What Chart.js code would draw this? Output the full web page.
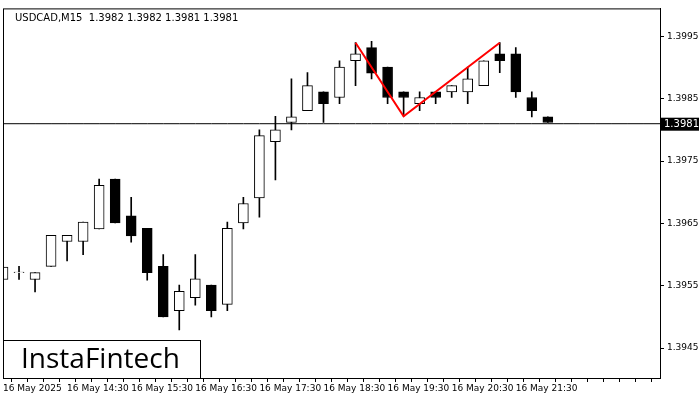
<!DOCTYPE html>
<html>
<head>
<meta charset="utf-8">
<script src="https://cdn.jsdelivr.net/npm/chart.js@4/dist/chart.umd.min.js"></script>
<style>
  html, body { margin: 0; padding: 0; background: #fff; }
  #wrap { width: 700px; height: 400px; position: relative; }
</style>
</head>
<body>
<div id="wrap"><canvas id="c"></canvas></div>
<script>
  // USDCAD M15 candles
  const timeLabels = ["16 May 2025","","","","16 May 14:30","","","","16 May 15:30","","","",
    "16 May 16:30","","","","16 May 17:30","","","","16 May 18:30","","","","16 May 19:30","","","",
    "16 May 20:30","","","","16 May 21:30","","","","","","","","",""];
  const opens  = [1.39560,1.39571,1.39560,1.39581,1.39621,1.39621,1.39641,1.39721,1.39662,1.39642,
    1.39581,1.39510,1.39531,1.39551,1.39520,1.39651,1.39691,1.39781,1.39812,1.39831,
    1.39861,1.39852,1.39911,1.39932,1.39901,1.39861,1.39842,1.39861,1.39861,1.39861,
    1.39871,1.39922,1.39922,1.39852,1.39821];
  const highs  = [1.39601,1.39581,1.39571,1.39631,1.39631,1.39652,1.39721,1.39721,1.39692,1.39642,
    1.39600,1.39551,1.39600,1.39551,1.39652,1.39692,1.39800,1.39822,1.39882,1.39892,
    1.39861,1.39911,1.39940,1.39942,1.39901,1.39861,1.39861,1.39861,1.39871,1.39901,
    1.39911,1.39940,1.39932,1.39861,1.39821];
  const lows   = [1.39551,1.39560,1.39540,1.39581,1.39590,1.39600,1.39641,1.39651,1.39620,1.39559,
    1.39500,1.39479,1.39519,1.39500,1.39510,1.39641,1.39660,1.39720,1.39800,1.39831,
    1.39812,1.39842,1.39871,1.39882,1.39842,1.39822,1.39831,1.39842,1.39852,1.39842,
    1.39871,1.39892,1.39852,1.39821,1.39812];
  const closes = [1.39580,1.39572,1.39571,1.39631,1.39631,1.39652,1.39711,1.39651,1.39630,1.39571,
    1.39500,1.39541,1.39561,1.39510,1.39642,1.39682,1.39791,1.39800,1.39821,1.39871,
    1.39842,1.39901,1.39922,1.39891,1.39852,1.39852,1.39852,1.39852,1.39871,1.39882,
    1.39911,1.39911,1.39861,1.39831,1.39812];
  const patternIdx = [22, 25, 31];
  const patternVals = [1.39940, 1.39822, 1.39940];
  const lastPrice = 1.3981;
  const priceTicks = [1.3945, 1.3955, 1.3965, 1.3975, 1.3985, 1.3995];

  const bodies = opens.map((o, i) => [o, closes[i]]);
  const wicks = lows.map((l, i) => [l, highs[i]]);
  const bodyFill = opens.map((o, i) => closes[i] >= o ? "#fff" : "#000");
  const pattern = timeLabels.map((_, i) => {
    const k = patternIdx.indexOf(i);
    return k >= 0 ? patternVals[k] : null;
  });
  const lastLine = timeLabels.map(() => lastPrice);

  const overlay = {
    id: "overlay",
    afterDraw(chart) {
      const ctx = chart.ctx, a = chart.chartArea, y = chart.scales.y;
      ctx.save();
      ctx.strokeStyle = "#000";
      ctx.lineWidth = 1;
      ctx.strokeRect(a.left + 0.5, a.top + 0.5, a.right - a.left, a.bottom - a.top);
      // header
      ctx.fillStyle = "#000";
      ctx.font = "10px 'DejaVu Sans'";
      ctx.textBaseline = "top";
      ctx.fillText("USDCAD,M15  1.3982 1.3982 1.3981 1.3981", a.left + 12, a.top + 5);
      // last price tag
      const py = y.getPixelForValue(lastPrice);
      ctx.fillRect(a.right + 1, py - 6, 38, 13);
      ctx.fillStyle = "#fff";
      ctx.textBaseline = "middle";
      ctx.fillText("1.3981", a.right + 4, py + 1);
      // logo
      ctx.fillStyle = "#fff";
      ctx.fillRect(3, 340, 198, a.bottom - 340);
      ctx.strokeRect(3.5, 340.5, 197, a.bottom - 340);
      ctx.fillStyle = "#000";
      ctx.font = "28px 'Open Sans'";
      ctx.fillText("InstaFintech", 21, 360);
      ctx.restore();
    }
  };

  new Chart(document.getElementById("c"), {
    data: {
      labels: timeLabels,
      datasets: [
        { type: "line", data: lastLine, borderColor: "#000", borderWidth: 1, pointRadius: 0, order: 4 },
        { type: "bar", data: wicks, backgroundColor: "#000", barThickness: 1, grouped: false, order: 3 },
        { type: "bar", data: bodies, backgroundColor: bodyFill, borderColor: "#000", borderWidth: 1,
          borderSkipped: false, barThickness: 10, grouped: false, order: 2 },
        { type: "line", data: pattern, borderColor: "#ff0000", borderWidth: 2, pointRadius: 0,
          spanGaps: true, order: 1 }
      ]
    },
    options: {
      responsive: true,
      maintainAspectRatio: false,
      animation: false,
      layout: { padding: { top: 3, left: 3, right: 0, bottom: 0 } },
      plugins: { legend: { display: false }, tooltip: { enabled: false } },
      scales: {
        x: {
          offset: false,
          afterFit: s => { s.height = 22; },
          grid: { drawOnChartArea: false, drawTicks: true, tickLength: 4, color: "#000" },
          border: { color: "#000" },
          ticks: {
            autoSkip: false, maxRotation: 0, align: "start", color: "#000", padding: 1,
            font: { family: "DejaVu Sans", size: 9 },
            callback: (v, i) => timeLabels[i]
          }
        },
        y: {
          position: "right",
          min: 1.39402, max: 1.39995,
          afterBuildTicks: s => { s.ticks = priceTicks.map(v => ({ value: v })); },
          afterFit: s => { s.width = 40; },
          grid: { drawOnChartArea: false, drawTicks: true, tickLength: 4, color: "#000" },
          border: { color: "#000" },
          ticks: { color: "#000", padding: 3, font: { family: "DejaVu Sans", size: 9 },
            callback: v => v.toFixed(4) }
        }
      }
    },
    plugins: [overlay]
  });
</script>
</body>
</html>
